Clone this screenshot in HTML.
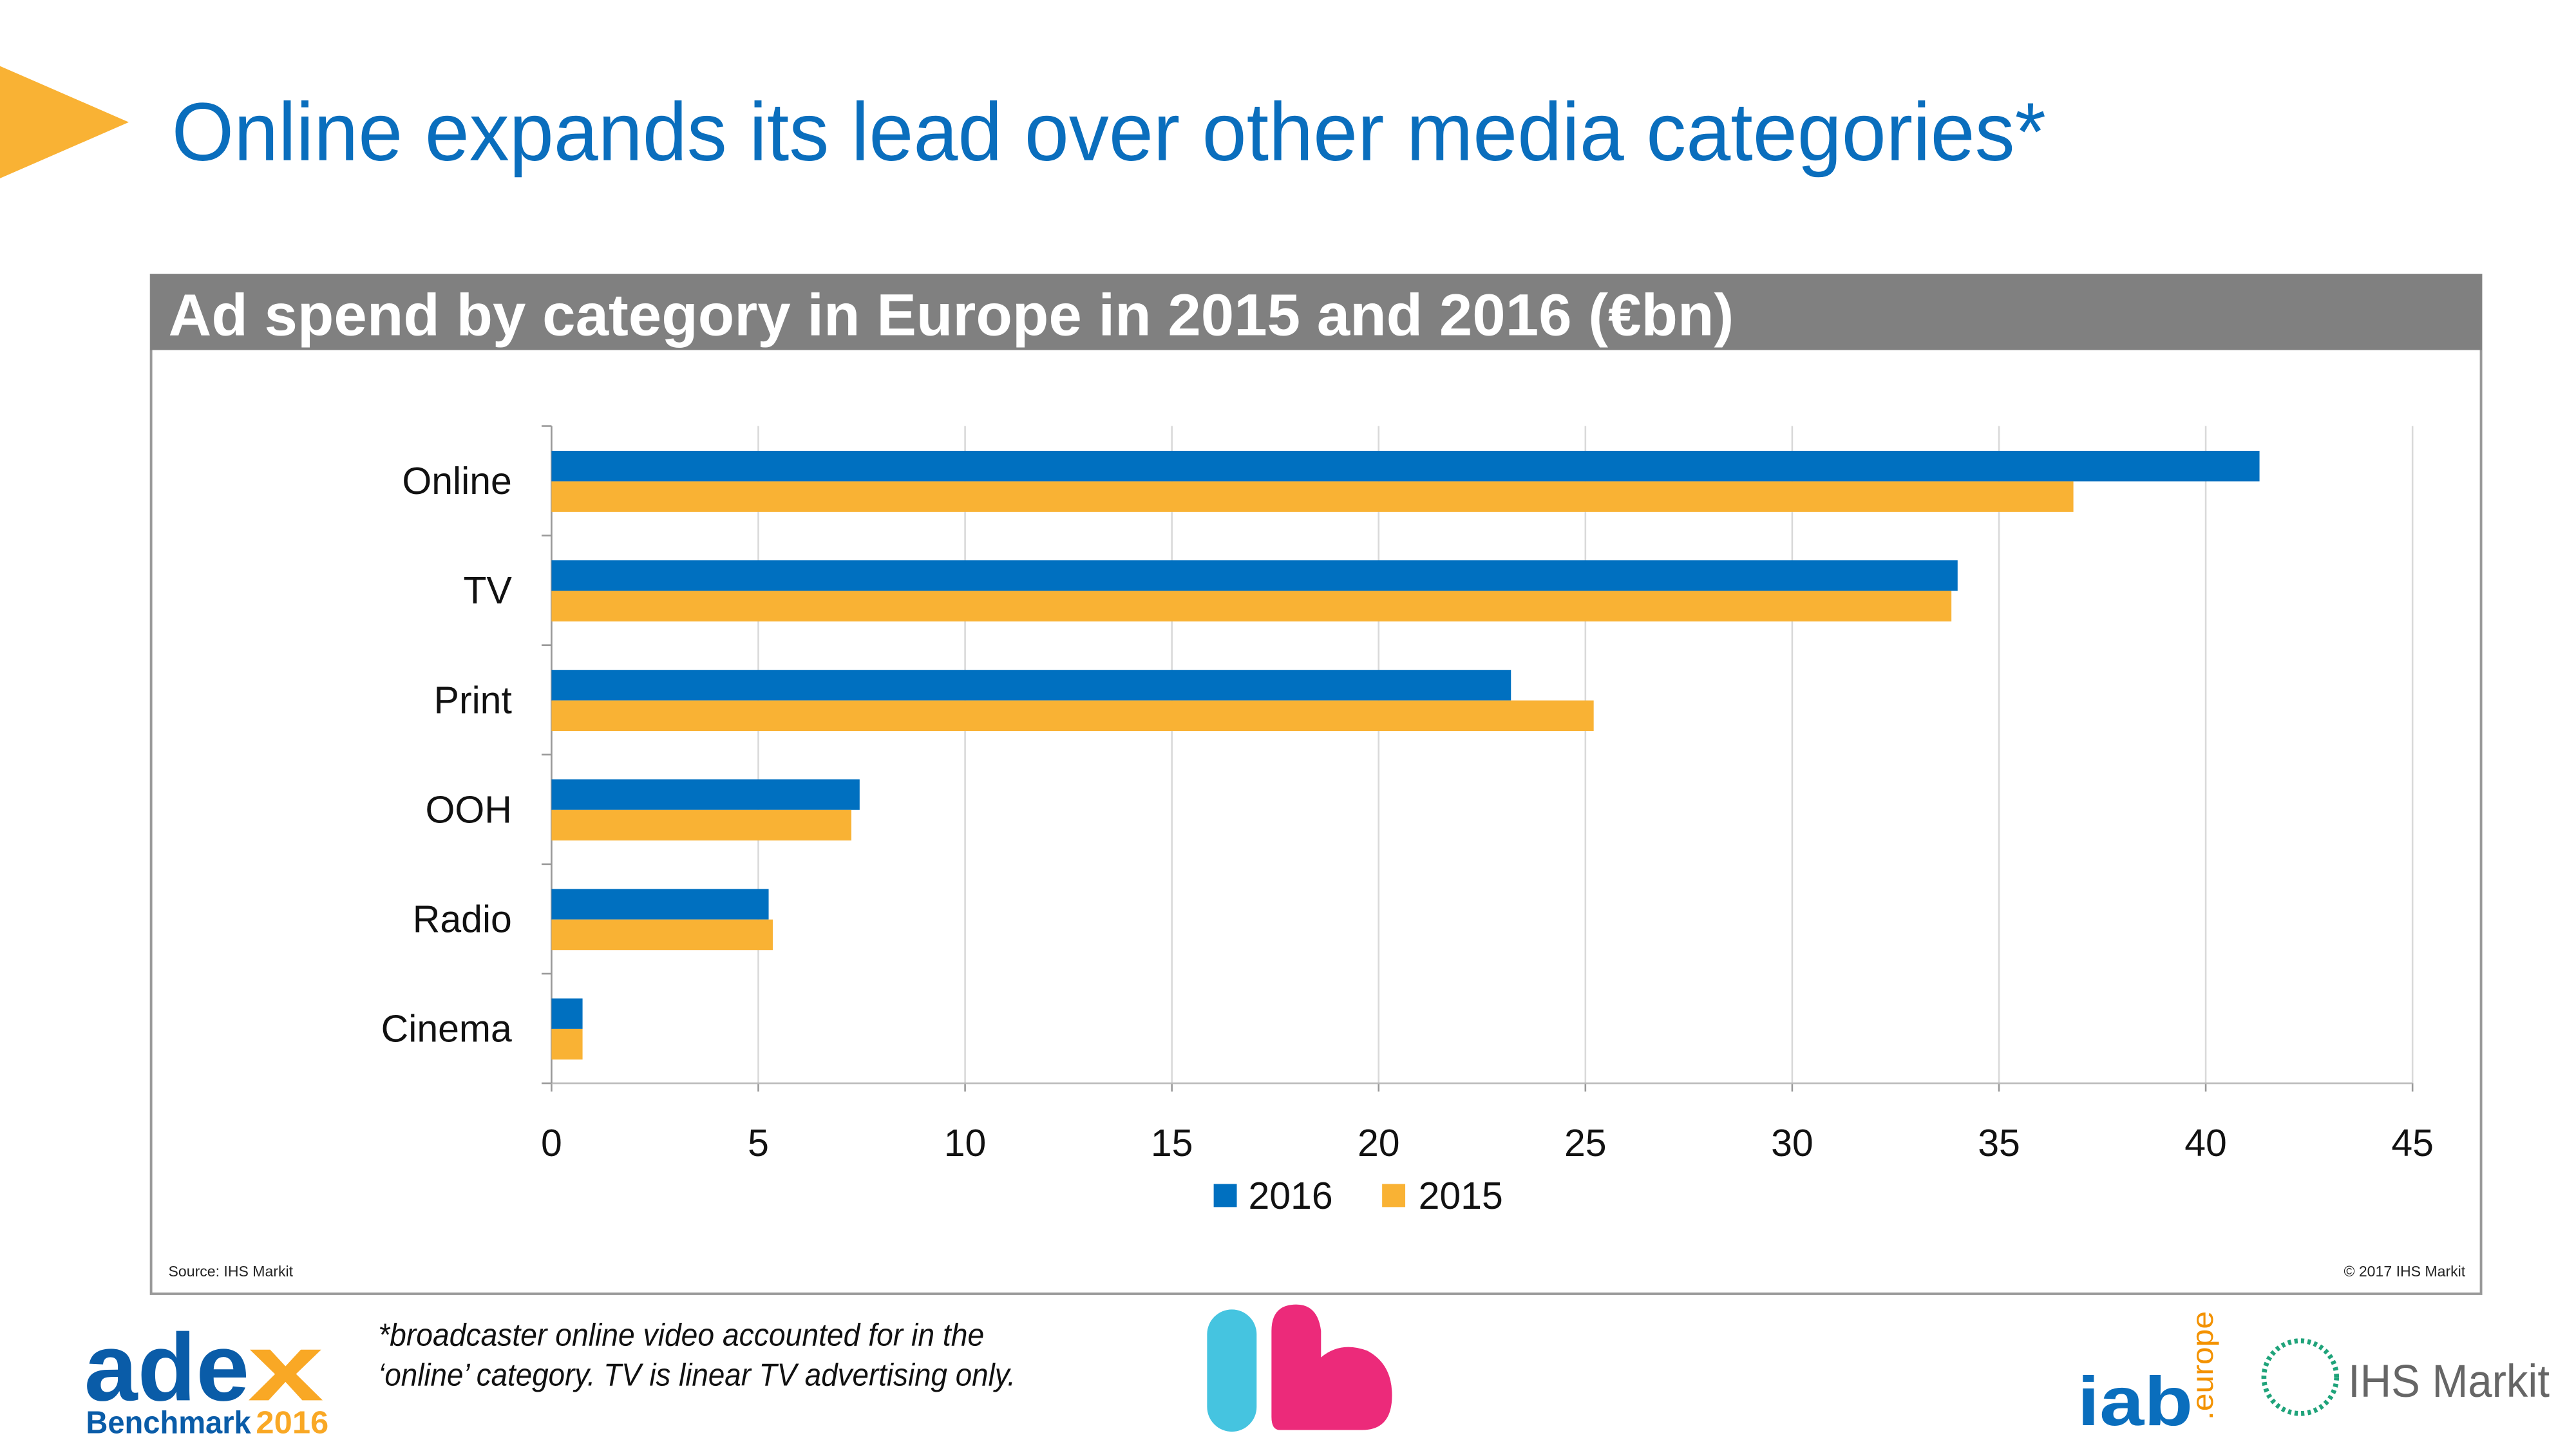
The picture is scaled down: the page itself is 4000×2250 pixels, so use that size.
<!DOCTYPE html>
<html><head><meta charset="utf-8"><style>
html,body{margin:0;padding:0;background:#fff;}
svg{display:block;font-family:"Liberation Sans",sans-serif;}
</style></head><body>
<svg id="chart" width="4000" height="2250" viewBox="0 0 1560 877.5" xmlns="http://www.w3.org/2000/svg">
<polygon points="0,40 78,74 0,108" fill="#F9B234"/>
<text x="104" y="97" font-size="50" fill="#0A6EBD" textLength="1135" lengthAdjust="spacingAndGlyphs">Online expands its lead over other media categories*</text>
<rect x="91.5" y="166.5" width="1411" height="617" fill="#fff" stroke="#999" stroke-width="1.5"/>
<rect x="91" y="166" width="1412" height="46" fill="#808080"/>
<text x="102" y="203" font-size="36" font-weight="bold" fill="#fff" textLength="948" lengthAdjust="spacingAndGlyphs">Ad spend by category in Europe  in 2015 and 2016 (€bn)</text>
<g id="plot"></g>
<g>
<rect x="735" y="717" width="14" height="14" fill="#0070C0"/>
<text x="756" y="732" font-size="23" fill="#111">2016</text>
<rect x="837" y="717" width="14" height="14" fill="#F9B234"/>
<text x="859" y="732" font-size="23" fill="#111">2015</text>
</g>
<text x="102" y="773" font-size="9" fill="#222">Source: IHS Markit</text>
<text x="1493" y="773" font-size="9" fill="#222" text-anchor="end">© 2017 IHS Markit</text>
<text x="229" y="815" font-size="19" font-style="italic" fill="#111" textLength="367" lengthAdjust="spacingAndGlyphs">*broadcaster online video accounted for in the</text>
<text x="229" y="839" font-size="19" font-style="italic" fill="#111" textLength="386" lengthAdjust="spacingAndGlyphs">‘online’ category. TV is linear TV advertising only.</text>
<g>
<text x="51" y="848" font-size="58" font-weight="bold" fill="#0A5CA8" textLength="100" lengthAdjust="spacingAndGlyphs">ade</text>
<text x="150" y="848" font-size="58" font-weight="bold" fill="#F9A825" textLength="46" lengthAdjust="spacingAndGlyphs">x</text>
<text x="52" y="868" font-size="19" font-weight="bold" fill="#0A5CA8" textLength="100" lengthAdjust="spacingAndGlyphs">Benchmark</text>
<text x="155" y="868" font-size="19" font-weight="bold" fill="#F9A825" textLength="44" lengthAdjust="spacingAndGlyphs">2016</text>
</g>
<g>
<rect x="731" y="793" width="30" height="74" rx="15" fill="#45C4E0"/>
<path d="M770,806 Q770,790 785,790 Q798,790 800,806 L800,822 Q812,812 828,818 Q843,826 843,845 Q843,866 825,866 L775,866 Q770,866 770,858 Z" fill="#EC2A7A"/>
</g>
<g>
<text x="1258" y="863" font-size="42" font-weight="bold" fill="#0A6EBD" textLength="70" lengthAdjust="spacingAndGlyphs">iab</text>
<text transform="translate(1340,860) rotate(-90)" font-size="18" fill="#F39200" textLength="66" lengthAdjust="spacingAndGlyphs">.europe</text>
</g>
<g>
<circle cx="1393" cy="834" r="22" fill="none" stroke="#1FA37A" stroke-width="3" stroke-dasharray="2 2"/>
<text x="1422" y="846" font-size="28" fill="#666" textLength="122" lengthAdjust="spacingAndGlyphs">IHS Markit</text>
</g>
</svg>
<script>
const categories = ["Online","TV","Print","OOH","Radio","Cinema"];
const values2016 = [41.3, 34.0, 23.2, 7.45, 5.25, 0.75];
const values2015 = [36.8, 33.85, 25.2, 7.25, 5.35, 0.75];
const xTicks = [0,5,10,15,20,25,30,35,40,45];

const NS = "http://www.w3.org/2000/svg";
const plot = document.getElementById("plot");
const X0 = 334, X1 = 1461, Y0 = 258, Y1 = 656, XMAX = 45;
const xs = v => X0 + (v / XMAX) * (X1 - X0);
const band = (Y1 - Y0) / categories.length;
function mk(tag, attrs) {
  const e = document.createElementNS(NS, tag);
  for (const k in attrs) e.setAttribute(k, attrs[k]);
  plot.appendChild(e);
  return e;
}
xTicks.forEach(t => {
  const g = mk("line", {x1: xs(t), x2: xs(t), y1: Y0, y2: Y1, stroke: "#d9d9d9", "stroke-width": 1});
  
  
  const tk = mk("line", {x1: xs(t), x2: xs(t), y1: Y1, y2: Y1 + 5, stroke: "#999", "stroke-width": 1});
  
  
  const lb = mk("text", {x: xs(t), y: 700, "font-size": 23, fill: "#111", "text-anchor": "middle"});
  lb.textContent = t;
  
  
});
const xa = mk("line", {x1: X0, x2: X1, y1: Y1, y2: Y1, stroke: "#bbb", "stroke-width": 1});


const ya = mk("line", {x1: X0, x2: X0, y1: Y0, y2: Y1, stroke: "#999", "stroke-width": 1});


for (let i = 0; i <= categories.length; i++) {
  const y = Y0 + i * band;
  const t = mk("line", {x1: X0 - 6, x2: X0, y1: y, y2: y, stroke: "#999", "stroke-width": 1});
  
  
}
categories.forEach((c, i) => {
  const top = Y0 + i * band;
  const b1 = mk("rect", {x: X0, y: top + 15, width: xs(values2016[i]) - X0, height: 18.5, fill: "#0070C0"});
  
  
  const b2 = mk("rect", {x: X0, y: top + 33.5, width: xs(values2015[i]) - X0, height: 18.5, fill: "#F9B234"});
  
  
  const l = mk("text", {x: 310, y: top + band / 2 + 8, "font-size": 23, fill: "#111", "text-anchor": "end"});
  l.textContent = c;
  
  
});
</script>
</body></html>
